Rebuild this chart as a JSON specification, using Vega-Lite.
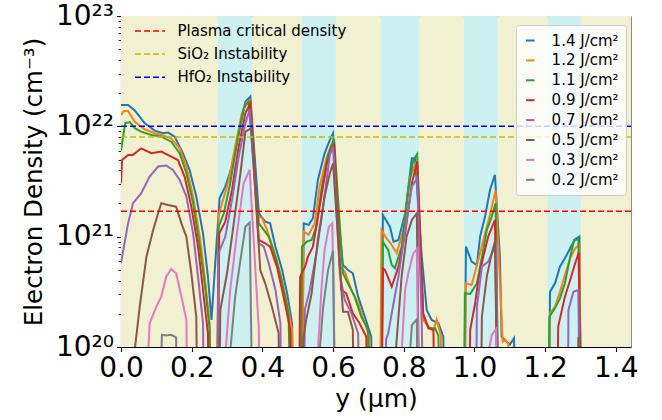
{
"$schema":"https://vega.github.io/schema/vega-lite/v6.json",
"width":510,"height":331,
"autosize":{"type":"none"},
"padding":{"left":121,"top":16,"right":31,"bottom":73},
"config":{"font":"DejaVu Sans","view":{"stroke":"#8c8c8c","strokeWidth":1},
 "axis":{"labelColor":"#000","titleColor":"#000","tickColor":"#000","domainColor":"#000","grid":false,"titleFontWeight":"normal","labelFont":"DejaVu Sans","titleFont":"DejaVu Sans"},
 "legend":{"labelColor":"#000","labelFont":"DejaVu Sans","labelLimit":400}},
"datasets":{
"bands":[
{"x0":0,"x1":0.274,"zone":"A"},{"x0":0.274,"x1":0.372,"zone":"B"},{"x0":0.372,"x1":0.512,"zone":"A"},{"x0":0.512,"x1":0.608,"zone":"B"},{"x0":0.608,"x1":0.734,"zone":"A"},{"x0":0.734,"x1":0.845,"zone":"B"},{"x0":0.845,"x1":0.97,"zone":"A"},{"x0":0.97,"x1":1.068,"zone":"B"},{"x0":1.068,"x1":1.206,"zone":"A"},{"x0":1.206,"x1":1.302,"zone":"B"},{"x0":1.302,"x1":1.443,"zone":"A"}],
"thresholds":[
{"name":"Plasma critical density","value":1.7e21},
{"name":"SiO₂ Instability","value":8e21},
{"name":"HfO₂ Instability","value":1e22}],
"curves":[
{"s":"1.4 J/cm²","x":0,"n":1.56e22},{"s":"1.4 J/cm²","x":0.02,"n":1.56e22},{"s":"1.4 J/cm²","x":0.039,"n":1.39e22},{"s":"1.4 J/cm²","x":0.067,"n":1.07e22},{"s":"1.4 J/cm²","x":0.095,"n":9.14e21},{"s":"1.4 J/cm²","x":0.119,"n":8.65e21},{"s":"1.4 J/cm²","x":0.133,"n":8.77e21},{"s":"1.4 J/cm²","x":0.152,"n":8.07e21},{"s":"1.4 J/cm²","x":0.175,"n":5.7e21},{"s":"1.4 J/cm²","x":0.194,"n":4.03e21},{"s":"1.4 J/cm²","x":0.213,"n":2.31e21},{"s":"1.4 J/cm²","x":0.232,"n":1.07e21},{"s":"1.4 J/cm²","x":0.246,"n":4.34e20},{"s":"1.4 J/cm²","x":0.256,"n":1.76e20},{"s":"1.4 J/cm²","x":0.279,"n":2.24e21},{"s":"1.4 J/cm²","x":0.295,"n":2.84e21},{"s":"1.4 J/cm²","x":0.314,"n":4.32e21},{"s":"1.4 J/cm²","x":0.333,"n":8.65e21},{"s":"1.4 J/cm²","x":0.352,"n":1.67e22},{"s":"1.4 J/cm²","x":0.366,"n":1.86e22},{"s":"1.4 J/cm²","x":0.39,"n":1.63e21},{"s":"1.4 J/cm²","x":0.408,"n":1.37e21},{"s":"1.4 J/cm²","x":0.422,"n":1.32e21},{"s":"1.4 J/cm²","x":0.437,"n":8.11e20},{"s":"1.4 J/cm²","x":0.456,"n":4.99e20},{"s":"1.4 J/cm²","x":0.47,"n":3.07e20},{"s":"1.4 J/cm²","x":0.484,"n":1.64e20},{"s":"1.4 J/cm²","x":0.494,"n":1e18},{"s":"1.4 J/cm²","x":0.508,"n":1e18},{"s":"1.4 J/cm²","x":0.517,"n":1.32e21},{"s":"1.4 J/cm²","x":0.531,"n":1.28e21},{"s":"1.4 J/cm²","x":0.543,"n":1.47e21},{"s":"1.4 J/cm²","x":0.557,"n":3.27e21},{"s":"1.4 J/cm²","x":0.576,"n":5.7e21},{"s":"1.4 J/cm²","x":0.591,"n":7.53e21},{"s":"1.4 J/cm²","x":0.6,"n":8.65e21},{"s":"1.4 J/cm²","x":0.614,"n":1.63e21},{"s":"1.4 J/cm²","x":0.628,"n":5.53e20},{"s":"1.4 J/cm²","x":0.642,"n":4.99e20},{"s":"1.4 J/cm²","x":0.656,"n":4.66e20},{"s":"1.4 J/cm²","x":0.671,"n":2.86e20},{"s":"1.4 J/cm²","x":0.69,"n":1.88e20},{"s":"1.4 J/cm²","x":0.708,"n":1.24e20},{"s":"1.4 J/cm²","x":0.716,"n":1e18},{"s":"1.4 J/cm²","x":0.733,"n":1e18},{"s":"1.4 J/cm²","x":0.741,"n":1.57e21},{"s":"1.4 J/cm²","x":0.761,"n":1.23e21},{"s":"1.4 J/cm²","x":0.771,"n":9.02e20},{"s":"1.4 J/cm²","x":0.785,"n":9.33e20},{"s":"1.4 J/cm²","x":0.804,"n":1.63e21},{"s":"1.4 J/cm²","x":0.823,"n":5.14e21},{"s":"1.4 J/cm²","x":0.832,"n":5.14e21},{"s":"1.4 J/cm²","x":0.851,"n":6.59e20},{"s":"1.4 J/cm²","x":0.865,"n":2.16e20},{"s":"1.4 J/cm²","x":0.879,"n":1.76e20},{"s":"1.4 J/cm²","x":0.898,"n":1.64e20},{"s":"1.4 J/cm²","x":0.912,"n":1.24e20},{"s":"1.4 J/cm²","x":0.92,"n":1e18},{"s":"1.4 J/cm²","x":0.968,"n":1e18},{"s":"1.4 J/cm²","x":0.976,"n":8.11e20},{"s":"1.4 J/cm²","x":0.992,"n":5.93e20},{"s":"1.4 J/cm²","x":1.007,"n":5.53e20},{"s":"1.4 J/cm²","x":1.016,"n":1e21},{"s":"1.4 J/cm²","x":1.03,"n":1.52e21},{"s":"1.4 J/cm²","x":1.044,"n":2.65e21},{"s":"1.4 J/cm²","x":1.058,"n":3.63e21},{"s":"1.4 J/cm²","x":1.072,"n":6.59e20},{"s":"1.4 J/cm²","x":1.077,"n":1.24e20},{"s":"1.4 J/cm²","x":1.087,"n":1.15e20},{"s":"1.4 J/cm²","x":1.1,"n":1.05e20},{"s":"1.4 J/cm²","x":1.112,"n":1.2e20},{"s":"1.4 J/cm²","x":1.126,"n":1e18},{"s":"1.4 J/cm²","x":1.206,"n":1e18},{"s":"1.4 J/cm²","x":1.214,"n":3.17e20},{"s":"1.4 J/cm²","x":1.228,"n":3.78e20},{"s":"1.4 J/cm²","x":1.242,"n":5.35e20},{"s":"1.4 J/cm²","x":1.256,"n":6.37e20},{"s":"1.4 J/cm²","x":1.271,"n":7.85e20},{"s":"1.4 J/cm²","x":1.285,"n":9.46e20},{"s":"1.4 J/cm²","x":1.297,"n":1e21},{"s":"1.4 J/cm²","x":1.305,"n":1e18},
{"s":"1.2 J/cm²","x":0,"n":1.27e22},{"s":"1.2 J/cm²","x":0.008,"n":1.38e22},{"s":"1.2 J/cm²","x":0.02,"n":1.38e22},{"s":"1.2 J/cm²","x":0.039,"n":1.1e22},{"s":"1.2 J/cm²","x":0.067,"n":9.4e21},{"s":"1.2 J/cm²","x":0.095,"n":8.65e21},{"s":"1.2 J/cm²","x":0.124,"n":8.18e21},{"s":"1.2 J/cm²","x":0.142,"n":7.8e21},{"s":"1.2 J/cm²","x":0.166,"n":6.32e21},{"s":"1.2 J/cm²","x":0.185,"n":4.32e21},{"s":"1.2 J/cm²","x":0.204,"n":2.31e21},{"s":"1.2 J/cm²","x":0.223,"n":1e21},{"s":"1.2 J/cm²","x":0.237,"n":4.34e20},{"s":"1.2 J/cm²","x":0.251,"n":1.64e20},{"s":"1.2 J/cm²","x":0.258,"n":1e18},{"s":"1.2 J/cm²","x":0.268,"n":1e18},{"s":"1.2 J/cm²","x":0.276,"n":1.52e21},{"s":"1.2 J/cm²","x":0.286,"n":2.01e21},{"s":"1.2 J/cm²","x":0.305,"n":3.27e21},{"s":"1.2 J/cm²","x":0.323,"n":6.55e21},{"s":"1.2 J/cm²","x":0.342,"n":1.32e22},{"s":"1.2 J/cm²","x":0.357,"n":1.67e22},{"s":"1.2 J/cm²","x":0.366,"n":1.73e22},{"s":"1.2 J/cm²","x":0.385,"n":1.57e21},{"s":"1.2 J/cm²","x":0.399,"n":1.47e21},{"s":"1.2 J/cm²","x":0.413,"n":1.15e21},{"s":"1.2 J/cm²","x":0.432,"n":7.57e20},{"s":"1.2 J/cm²","x":0.451,"n":4.66e20},{"s":"1.2 J/cm²","x":0.47,"n":2.49e20},{"s":"1.2 J/cm²","x":0.484,"n":1.43e20},{"s":"1.2 J/cm²","x":0.492,"n":1e18},{"s":"1.2 J/cm²","x":0.508,"n":1e18},{"s":"1.2 J/cm²","x":0.517,"n":1.11e21},{"s":"1.2 J/cm²","x":0.531,"n":1.04e21},{"s":"1.2 J/cm²","x":0.548,"n":1.32e21},{"s":"1.2 J/cm²","x":0.562,"n":2.84e21},{"s":"1.2 J/cm²","x":0.581,"n":5.14e21},{"s":"1.2 J/cm²","x":0.595,"n":6.78e21},{"s":"1.2 J/cm²","x":0.602,"n":7.53e21},{"s":"1.2 J/cm²","x":0.619,"n":5.35e20},{"s":"1.2 J/cm²","x":0.633,"n":4.82e20},{"s":"1.2 J/cm²","x":0.652,"n":3.29e20},{"s":"1.2 J/cm²","x":0.671,"n":2.49e20},{"s":"1.2 J/cm²","x":0.69,"n":1.64e20},{"s":"1.2 J/cm²","x":0.703,"n":1.23e20},{"s":"1.2 J/cm²","x":0.712,"n":1e18},{"s":"1.2 J/cm²","x":0.73,"n":1e18},{"s":"1.2 J/cm²","x":0.737,"n":1.15e21},{"s":"1.2 J/cm²","x":0.751,"n":9.68e20},{"s":"1.2 J/cm²","x":0.766,"n":8.41e20},{"s":"1.2 J/cm²","x":0.78,"n":7.06e20},{"s":"1.2 J/cm²","x":0.799,"n":1.15e21},{"s":"1.2 J/cm²","x":0.818,"n":3.5e21},{"s":"1.2 J/cm²","x":0.837,"n":4.79e21},{"s":"1.2 J/cm²","x":0.855,"n":1.76e20},{"s":"1.2 J/cm²","x":0.87,"n":1.53e20},{"s":"1.2 J/cm²","x":0.884,"n":1.41e20},{"s":"1.2 J/cm²","x":0.893,"n":1.78e20},{"s":"1.2 J/cm²","x":0.905,"n":1.26e20},{"s":"1.2 J/cm²","x":0.915,"n":1e18},{"s":"1.2 J/cm²","x":0.968,"n":1e18},{"s":"1.2 J/cm²","x":0.976,"n":3.78e20},{"s":"1.2 J/cm²","x":0.992,"n":3.65e20},{"s":"1.2 J/cm²","x":1.011,"n":6.15e20},{"s":"1.2 J/cm²","x":1.03,"n":1.07e21},{"s":"1.2 J/cm²","x":1.044,"n":1.57e21},{"s":"1.2 J/cm²","x":1.06,"n":2.65e21},{"s":"1.2 J/cm²","x":1.072,"n":3.98e20},{"s":"1.2 J/cm²","x":1.08,"n":1.12e20},{"s":"1.2 J/cm²","x":1.087,"n":1.16e20},{"s":"1.2 J/cm²","x":1.096,"n":1.07e20},{"s":"1.2 J/cm²","x":1.102,"n":1e18},{"s":"1.2 J/cm²","x":1.206,"n":1e18},{"s":"1.2 J/cm²","x":1.214,"n":2.02e20},{"s":"1.2 J/cm²","x":1.228,"n":2.32e20},{"s":"1.2 J/cm²","x":1.242,"n":3.17e20},{"s":"1.2 J/cm²","x":1.256,"n":4.5e20},{"s":"1.2 J/cm²","x":1.271,"n":6.37e20},{"s":"1.2 J/cm²","x":1.285,"n":7.85e20},{"s":"1.2 J/cm²","x":1.297,"n":8.41e20},{"s":"1.2 J/cm²","x":1.305,"n":1e18},
{"s":"1.1 J/cm²","x":0,"n":6.03e21},{"s":"1.1 J/cm²","x":0.012,"n":1.07e22},{"s":"1.1 J/cm²","x":0.025,"n":1.09e22},{"s":"1.1 J/cm²","x":0.039,"n":9.62e21},{"s":"1.1 J/cm²","x":0.057,"n":8.95e21},{"s":"1.1 J/cm²","x":0.086,"n":8.36e21},{"s":"1.1 J/cm²","x":0.114,"n":8.07e21},{"s":"1.1 J/cm²","x":0.142,"n":7.26e21},{"s":"1.1 J/cm²","x":0.166,"n":5.7e21},{"s":"1.1 J/cm²","x":0.185,"n":3.76e21},{"s":"1.1 J/cm²","x":0.204,"n":2.01e21},{"s":"1.1 J/cm²","x":0.223,"n":8.11e20},{"s":"1.1 J/cm²","x":0.239,"n":3.29e20},{"s":"1.1 J/cm²","x":0.251,"n":1.43e20},{"s":"1.1 J/cm²","x":0.258,"n":1e18},{"s":"1.1 J/cm²","x":0.269,"n":1e18},{"s":"1.1 J/cm²","x":0.276,"n":1.23e21},{"s":"1.1 J/cm²","x":0.291,"n":1.63e21},{"s":"1.1 J/cm²","x":0.309,"n":3.05e21},{"s":"1.1 J/cm²","x":0.328,"n":7.03e21},{"s":"1.1 J/cm²","x":0.347,"n":1.46e22},{"s":"1.1 J/cm²","x":0.361,"n":1.67e22},{"s":"1.1 J/cm²","x":0.39,"n":1.32e21},{"s":"1.1 J/cm²","x":0.404,"n":1.15e21},{"s":"1.1 J/cm²","x":0.418,"n":1e21},{"s":"1.1 J/cm²","x":0.437,"n":6.59e20},{"s":"1.1 J/cm²","x":0.456,"n":3.78e20},{"s":"1.1 J/cm²","x":0.474,"n":2.02e20},{"s":"1.1 J/cm²","x":0.489,"n":1e18},{"s":"1.1 J/cm²","x":0.505,"n":1e18},{"s":"1.1 J/cm²","x":0.512,"n":8.11e20},{"s":"1.1 J/cm²","x":0.526,"n":9.02e20},{"s":"1.1 J/cm²","x":0.539,"n":9.33e20},{"s":"1.1 J/cm²","x":0.553,"n":1.23e21},{"s":"1.1 J/cm²","x":0.567,"n":2.65e21},{"s":"1.1 J/cm²","x":0.586,"n":5.51e21},{"s":"1.1 J/cm²","x":0.603,"n":7.64e21},{"s":"1.1 J/cm²","x":0.628,"n":4.66e20},{"s":"1.1 J/cm²","x":0.642,"n":3.78e20},{"s":"1.1 J/cm²","x":0.661,"n":2.86e20},{"s":"1.1 J/cm²","x":0.68,"n":1.88e20},{"s":"1.1 J/cm²","x":0.699,"n":1.43e20},{"s":"1.1 J/cm²","x":0.71,"n":1e18},{"s":"1.1 J/cm²","x":0.733,"n":1e18},{"s":"1.1 J/cm²","x":0.741,"n":9.02e20},{"s":"1.1 J/cm²","x":0.756,"n":7.57e20},{"s":"1.1 J/cm²","x":0.766,"n":5.53e20},{"s":"1.1 J/cm²","x":0.775,"n":5.16e20},{"s":"1.1 J/cm²","x":0.794,"n":8.11e20},{"s":"1.1 J/cm²","x":0.813,"n":2.65e21},{"s":"1.1 J/cm²","x":0.827,"n":4.95e21},{"s":"1.1 J/cm²","x":0.838,"n":5.62e21},{"s":"1.1 J/cm²","x":0.855,"n":2e20},{"s":"1.1 J/cm²","x":0.87,"n":1.48e20},{"s":"1.1 J/cm²","x":0.889,"n":1.48e20},{"s":"1.1 J/cm²","x":0.898,"n":1.26e20},{"s":"1.1 J/cm²","x":0.91,"n":1e18},{"s":"1.1 J/cm²","x":0.966,"n":1e18},{"s":"1.1 J/cm²","x":0.973,"n":3.07e20},{"s":"1.1 J/cm²","x":0.988,"n":3.02e20},{"s":"1.1 J/cm²","x":1.007,"n":3.78e20},{"s":"1.1 J/cm²","x":1.025,"n":7.57e20},{"s":"1.1 J/cm²","x":1.035,"n":1.15e21},{"s":"1.1 J/cm²","x":1.049,"n":1.52e21},{"s":"1.1 J/cm²","x":1.06,"n":2.01e21},{"s":"1.1 J/cm²","x":1.075,"n":1e18},{"s":"1.1 J/cm²","x":1.206,"n":1e18},{"s":"1.1 J/cm²","x":1.212,"n":1.88e20},{"s":"1.1 J/cm²","x":1.228,"n":2.24e20},{"s":"1.1 J/cm²","x":1.242,"n":2.76e20},{"s":"1.1 J/cm²","x":1.256,"n":3.78e20},{"s":"1.1 J/cm²","x":1.271,"n":6.59e20},{"s":"1.1 J/cm²","x":1.282,"n":9.33e20},{"s":"1.1 J/cm²","x":1.294,"n":9.46e20},{"s":"1.1 J/cm²","x":1.312,"n":1e18},
{"s":"0.9 J/cm²","x":0,"n":3.05e21},{"s":"0.9 J/cm²","x":0.003,"n":4.95e21},{"s":"0.9 J/cm²","x":0.02,"n":5.51e21},{"s":"0.9 J/cm²","x":0.034,"n":5.51e21},{"s":"0.9 J/cm²","x":0.057,"n":6.32e21},{"s":"0.9 J/cm²","x":0.086,"n":5.7e21},{"s":"0.9 J/cm²","x":0.114,"n":5.9e21},{"s":"0.9 J/cm²","x":0.142,"n":5.31e21},{"s":"0.9 J/cm²","x":0.161,"n":4.95e21},{"s":"0.9 J/cm²","x":0.18,"n":3.5e21},{"s":"0.9 J/cm²","x":0.199,"n":1.87e21},{"s":"0.9 J/cm²","x":0.218,"n":8.11e20},{"s":"0.9 J/cm²","x":0.232,"n":3.29e20},{"s":"0.9 J/cm²","x":0.246,"n":1.33e20},{"s":"0.9 J/cm²","x":0.253,"n":1e18},{"s":"0.9 J/cm²","x":0.27,"n":1e18},{"s":"0.9 J/cm²","x":0.278,"n":1.07e21},{"s":"0.9 J/cm²","x":0.295,"n":1.37e21},{"s":"0.9 J/cm²","x":0.314,"n":2.65e21},{"s":"0.9 J/cm²","x":0.333,"n":6.55e21},{"s":"0.9 J/cm²","x":0.352,"n":1.32e22},{"s":"0.9 J/cm²","x":0.366,"n":1.62e22},{"s":"0.9 J/cm²","x":0.39,"n":9.33e20},{"s":"0.9 J/cm²","x":0.408,"n":8.71e20},{"s":"0.9 J/cm²","x":0.422,"n":8.11e20},{"s":"0.9 J/cm²","x":0.441,"n":5.35e20},{"s":"0.9 J/cm²","x":0.46,"n":2.86e20},{"s":"0.9 J/cm²","x":0.479,"n":1.43e20},{"s":"0.9 J/cm²","x":0.487,"n":1e18},{"s":"0.9 J/cm²","x":0.5,"n":1e18},{"s":"0.9 J/cm²","x":0.507,"n":4.34e20},{"s":"0.9 J/cm²","x":0.521,"n":5.35e20},{"s":"0.9 J/cm²","x":0.529,"n":6.59e20},{"s":"0.9 J/cm²","x":0.543,"n":8.11e20},{"s":"0.9 J/cm²","x":0.562,"n":1.87e21},{"s":"0.9 J/cm²","x":0.581,"n":4.32e21},{"s":"0.9 J/cm²","x":0.595,"n":6.32e21},{"s":"0.9 J/cm²","x":0.603,"n":6.76e21},{"s":"0.9 J/cm²","x":0.623,"n":3.29e20},{"s":"0.9 J/cm²","x":0.637,"n":3.07e20},{"s":"0.9 J/cm²","x":0.656,"n":2.02e20},{"s":"0.9 J/cm²","x":0.675,"n":1.64e20},{"s":"0.9 J/cm²","x":0.694,"n":1.24e20},{"s":"0.9 J/cm²","x":0.703,"n":1e18},{"s":"0.9 J/cm²","x":0.734,"n":1e18},{"s":"0.9 J/cm²","x":0.741,"n":5.16e20},{"s":"0.9 J/cm²","x":0.747,"n":4.99e20},{"s":"0.9 J/cm²","x":0.766,"n":3.52e20},{"s":"0.9 J/cm²","x":0.785,"n":5.35e20},{"s":"0.9 J/cm²","x":0.804,"n":1.07e21},{"s":"0.9 J/cm²","x":0.823,"n":3.05e21},{"s":"0.9 J/cm²","x":0.838,"n":4.79e21},{"s":"0.9 J/cm²","x":0.855,"n":2e20},{"s":"0.9 J/cm²","x":0.87,"n":1.48e20},{"s":"0.9 J/cm²","x":0.884,"n":1.43e20},{"s":"0.9 J/cm²","x":0.893,"n":1e18},{"s":"0.9 J/cm²","x":0.982,"n":1e18},{"s":"0.9 J/cm²","x":0.988,"n":1.43e20},{"s":"0.9 J/cm²","x":1.002,"n":2.49e20},{"s":"0.9 J/cm²","x":1.011,"n":4.05e20},{"s":"0.9 J/cm²","x":1.025,"n":6.59e20},{"s":"0.9 J/cm²","x":1.039,"n":1e21},{"s":"0.9 J/cm²","x":1.058,"n":1.42e21},{"s":"0.9 J/cm²","x":1.072,"n":1e18},{"s":"0.9 J/cm²","x":1.23,"n":1e18},{"s":"0.9 J/cm²","x":1.237,"n":1.53e20},{"s":"0.9 J/cm²","x":1.256,"n":2.86e20},{"s":"0.9 J/cm²","x":1.271,"n":4.05e20},{"s":"0.9 J/cm²","x":1.285,"n":5.74e20},{"s":"0.9 J/cm²","x":1.295,"n":7.16e20},{"s":"0.9 J/cm²","x":1.305,"n":1e18},
{"s":"0.7 J/cm²","x":0,"n":5.74e20},{"s":"0.7 J/cm²","x":0.01,"n":8.71e20},{"s":"0.7 J/cm²","x":0.02,"n":1.32e21},{"s":"0.7 J/cm²","x":0.034,"n":2.01e21},{"s":"0.7 J/cm²","x":0.057,"n":2.47e21},{"s":"0.7 J/cm²","x":0.081,"n":3.5e21},{"s":"0.7 J/cm²","x":0.105,"n":4.32e21},{"s":"0.7 J/cm²","x":0.128,"n":4.41e21},{"s":"0.7 J/cm²","x":0.147,"n":4.03e21},{"s":"0.7 J/cm²","x":0.166,"n":3.27e21},{"s":"0.7 J/cm²","x":0.185,"n":2.31e21},{"s":"0.7 J/cm²","x":0.204,"n":1.07e21},{"s":"0.7 J/cm²","x":0.218,"n":4.34e20},{"s":"0.7 J/cm²","x":0.232,"n":1.64e20},{"s":"0.7 J/cm²","x":0.24,"n":1e18},{"s":"0.7 J/cm²","x":0.268,"n":1e18},{"s":"0.7 J/cm²","x":0.276,"n":7.06e20},{"s":"0.7 J/cm²","x":0.295,"n":1e21},{"s":"0.7 J/cm²","x":0.314,"n":2.15e21},{"s":"0.7 J/cm²","x":0.333,"n":5.31e21},{"s":"0.7 J/cm²","x":0.352,"n":1.07e22},{"s":"0.7 J/cm²","x":0.364,"n":1.41e22},{"s":"0.7 J/cm²","x":0.39,"n":8.71e20},{"s":"0.7 J/cm²","x":0.404,"n":8.11e20},{"s":"0.7 J/cm²","x":0.418,"n":5.74e20},{"s":"0.7 J/cm²","x":0.437,"n":3.29e20},{"s":"0.7 J/cm²","x":0.451,"n":1.64e20},{"s":"0.7 J/cm²","x":0.458,"n":1e18},{"s":"0.7 J/cm²","x":0.515,"n":1e18},{"s":"0.7 J/cm²","x":0.52,"n":2.16e20},{"s":"0.7 J/cm²","x":0.534,"n":3.29e20},{"s":"0.7 J/cm²","x":0.553,"n":7.06e20},{"s":"0.7 J/cm²","x":0.572,"n":1.87e21},{"s":"0.7 J/cm²","x":0.591,"n":5.51e21},{"s":"0.7 J/cm²","x":0.6,"n":6.55e21},{"s":"0.7 J/cm²","x":0.619,"n":4.66e20},{"s":"0.7 J/cm²","x":0.633,"n":2.67e20},{"s":"0.7 J/cm²","x":0.652,"n":2.02e20},{"s":"0.7 J/cm²","x":0.671,"n":1.33e20},{"s":"0.7 J/cm²","x":0.68,"n":1e18},{"s":"0.7 J/cm²","x":0.745,"n":1e18},{"s":"0.7 J/cm²","x":0.75,"n":1.17e20},{"s":"0.7 J/cm²","x":0.756,"n":1.33e20},{"s":"0.7 J/cm²","x":0.771,"n":2.49e20},{"s":"0.7 J/cm²","x":0.785,"n":4.34e20},{"s":"0.7 J/cm²","x":0.804,"n":1.15e21},{"s":"0.7 J/cm²","x":0.823,"n":2.84e21},{"s":"0.7 J/cm²","x":0.838,"n":3.38e21},{"s":"0.7 J/cm²","x":0.851,"n":1.64e20},{"s":"0.7 J/cm²","x":0.862,"n":1e18},{"s":"0.7 J/cm²","x":1,"n":1e18},{"s":"0.7 J/cm²","x":1.007,"n":2.32e20},{"s":"0.7 J/cm²","x":1.021,"n":5.35e20},{"s":"0.7 J/cm²","x":1.039,"n":5.93e20},{"s":"0.7 J/cm²","x":1.054,"n":7.57e20},{"s":"0.7 J/cm²","x":1.061,"n":8.71e20},{"s":"0.7 J/cm²","x":1.072,"n":1e18},{"s":"0.7 J/cm²","x":1.262,"n":1e18},{"s":"0.7 J/cm²","x":1.266,"n":2.16e20},{"s":"0.7 J/cm²","x":1.28,"n":3.17e20},{"s":"0.7 J/cm²","x":1.294,"n":3.29e20},{"s":"0.7 J/cm²","x":1.303,"n":1e18},
{"s":"0.5 J/cm²","x":0.039,"n":9.5e19},{"s":"0.5 J/cm²","x":0.053,"n":2.32e20},{"s":"0.5 J/cm²","x":0.072,"n":6.59e20},{"s":"0.5 J/cm²","x":0.091,"n":1.15e21},{"s":"0.5 J/cm²","x":0.105,"n":1.63e21},{"s":"0.5 J/cm²","x":0.114,"n":2.01e21},{"s":"0.5 J/cm²","x":0.133,"n":1.94e21},{"s":"0.5 J/cm²","x":0.156,"n":1.87e21},{"s":"0.5 J/cm²","x":0.171,"n":1.32e21},{"s":"0.5 J/cm²","x":0.185,"n":1e21},{"s":"0.5 J/cm²","x":0.199,"n":4.66e20},{"s":"0.5 J/cm²","x":0.213,"n":1.88e20},{"s":"0.5 J/cm²","x":0.222,"n":1e18},{"s":"0.5 J/cm²","x":0.272,"n":1e18},{"s":"0.5 J/cm²","x":0.281,"n":2.16e20},{"s":"0.5 J/cm²","x":0.3,"n":4.66e20},{"s":"0.5 J/cm²","x":0.319,"n":1.32e21},{"s":"0.5 J/cm²","x":0.338,"n":3.76e21},{"s":"0.5 J/cm²","x":0.352,"n":8.95e21},{"s":"0.5 J/cm²","x":0.369,"n":9.62e21},{"s":"0.5 J/cm²","x":0.394,"n":4.99e20},{"s":"0.5 J/cm²","x":0.408,"n":3.78e20},{"s":"0.5 J/cm²","x":0.427,"n":2.32e20},{"s":"0.5 J/cm²","x":0.446,"n":1.33e20},{"s":"0.5 J/cm²","x":0.455,"n":1e18},{"s":"0.5 J/cm²","x":0.51,"n":1e18},{"s":"0.5 J/cm²","x":0.516,"n":1.2e20},{"s":"0.5 J/cm²","x":0.524,"n":1.76e20},{"s":"0.5 J/cm²","x":0.539,"n":3.02e20},{"s":"0.5 J/cm²","x":0.557,"n":9.33e20},{"s":"0.5 J/cm²","x":0.576,"n":2.31e21},{"s":"0.5 J/cm²","x":0.591,"n":3.76e21},{"s":"0.5 J/cm²","x":0.6,"n":4.62e21},{"s":"0.5 J/cm²","x":0.628,"n":2.09e20},{"s":"0.5 J/cm²","x":0.642,"n":2.09e20},{"s":"0.5 J/cm²","x":0.656,"n":1.43e20},{"s":"0.5 J/cm²","x":0.663,"n":1e18},{"s":"0.5 J/cm²","x":0.77,"n":1e18},{"s":"0.5 J/cm²","x":0.776,"n":8e19},{"s":"0.5 J/cm²","x":0.794,"n":4.34e20},{"s":"0.5 J/cm²","x":0.808,"n":1e21},{"s":"0.5 J/cm²","x":0.823,"n":1.42e21},{"s":"0.5 J/cm²","x":0.837,"n":1.63e21},{"s":"0.5 J/cm²","x":0.85,"n":1e18},{"s":"0.5 J/cm²","x":1.015,"n":1e18},{"s":"0.5 J/cm²","x":1.021,"n":1.88e20},{"s":"0.5 J/cm²","x":1.035,"n":4.34e20},{"s":"0.5 J/cm²","x":1.049,"n":7.06e20},{"s":"0.5 J/cm²","x":1.058,"n":9.02e20},{"s":"0.5 J/cm²","x":1.072,"n":1e18},{"s":"0.5 J/cm²","x":1.29,"n":1e18},{"s":"0.5 J/cm²","x":1.294,"n":1.24e20},{"s":"0.5 J/cm²","x":1.3,"n":1e18},
{"s":"0.3 J/cm²","x":0.077,"n":9e19},{"s":"0.3 J/cm²","x":0.081,"n":1.64e20},{"s":"0.3 J/cm²","x":0.1,"n":2.32e20},{"s":"0.3 J/cm²","x":0.114,"n":2.86e20},{"s":"0.3 J/cm²","x":0.128,"n":4.34e20},{"s":"0.3 J/cm²","x":0.142,"n":5.09e20},{"s":"0.3 J/cm²","x":0.156,"n":4.66e20},{"s":"0.3 J/cm²","x":0.171,"n":2.86e20},{"s":"0.3 J/cm²","x":0.185,"n":1.76e20},{"s":"0.3 J/cm²","x":0.192,"n":1e18},{"s":"0.3 J/cm²","x":0.29,"n":1e18},{"s":"0.3 J/cm²","x":0.296,"n":9e19},{"s":"0.3 J/cm²","x":0.309,"n":3.29e20},{"s":"0.3 J/cm²","x":0.328,"n":1.07e21},{"s":"0.3 J/cm²","x":0.347,"n":3.05e21},{"s":"0.3 J/cm²","x":0.364,"n":4.03e21},{"s":"0.3 J/cm²","x":0.39,"n":1.43e20},{"s":"0.3 J/cm²","x":0.395,"n":1e18},{"s":"0.3 J/cm²","x":0.552,"n":1e18},{"s":"0.3 J/cm²","x":0.557,"n":9e19},{"s":"0.3 J/cm²","x":0.567,"n":3.29e20},{"s":"0.3 J/cm²","x":0.576,"n":7.57e20},{"s":"0.3 J/cm²","x":0.588,"n":1.23e21},{"s":"0.3 J/cm²","x":0.598,"n":1.32e21},{"s":"0.3 J/cm²","x":0.614,"n":1e18},{"s":"0.3 J/cm²","x":0.79,"n":1e18},{"s":"0.3 J/cm²","x":0.794,"n":9e19},{"s":"0.3 J/cm²","x":0.804,"n":3.29e20},{"s":"0.3 J/cm²","x":0.813,"n":4.66e20},{"s":"0.3 J/cm²","x":0.827,"n":7.06e20},{"s":"0.3 J/cm²","x":0.837,"n":7.69e20},{"s":"0.3 J/cm²","x":0.848,"n":1e18},{"s":"0.3 J/cm²","x":1.036,"n":1e18},{"s":"0.3 J/cm²","x":1.04,"n":9e19},{"s":"0.3 J/cm²","x":1.049,"n":1.29e20},{"s":"0.3 J/cm²","x":1.061,"n":1.45e20},{"s":"0.3 J/cm²","x":1.066,"n":1e18},
{"s":"0.2 J/cm²","x":0.114,"n":9e19},{"s":"0.2 J/cm²","x":0.116,"n":1.29e20},{"s":"0.2 J/cm²","x":0.128,"n":1.27e20},{"s":"0.2 J/cm²","x":0.142,"n":1.29e20},{"s":"0.2 J/cm²","x":0.156,"n":1.22e20},{"s":"0.2 J/cm²","x":0.162,"n":1e18},{"s":"0.2 J/cm²","x":0.305,"n":1e18},{"s":"0.2 J/cm²","x":0.309,"n":9e19},{"s":"0.2 J/cm²","x":0.323,"n":2.86e20},{"s":"0.2 J/cm²","x":0.338,"n":6.15e20},{"s":"0.2 J/cm²","x":0.352,"n":1.23e21},{"s":"0.2 J/cm²","x":0.364,"n":1.34e21},{"s":"0.2 J/cm²","x":0.378,"n":1e18},{"s":"0.2 J/cm²","x":0.558,"n":1e18},{"s":"0.2 J/cm²","x":0.562,"n":9e19},{"s":"0.2 J/cm²","x":0.572,"n":2.32e20},{"s":"0.2 J/cm²","x":0.586,"n":4.99e20},{"s":"0.2 J/cm²","x":0.6,"n":7.46e20},{"s":"0.2 J/cm²","x":0.61,"n":1e18},{"s":"0.2 J/cm²","x":0.814,"n":1e18},{"s":"0.2 J/cm²","x":0.818,"n":9e19},{"s":"0.2 J/cm²","x":0.823,"n":1.58e20},{"s":"0.2 J/cm²","x":0.837,"n":1.78e20},{"s":"0.2 J/cm²","x":0.843,"n":1e18}
]},
"layer":[
{"data":{"name":"bands"},"mark":{"type":"rect","clip":true},
 "encoding":{
  "x":{"field":"x0","type":"quantitative","scale":{"domain":[0,1.443],"nice":false,"zero":false},
   "axis":{"values":[0,0.2,0.4,0.6,0.8,1.0,1.2,1.4],"format":".1f","labelFontSize":28,"labelPadding":3,"tickSize":4.5,"tickWidth":1.1,"domainWidth":1.1,"title":"y (μm)","titleFontSize":25,"titlePadding":4,"labelFlush":false,"labelOverlap":false}},
  "x2":{"field":"x1"},
  "color":{"field":"zone","type":"nominal","scale":{"domain":["A","B"],"range":["#f1f0d1","#cdf1f0"]},"legend":null}}},
{"data":{"name":"curves"},"mark":{"type":"line","clip":true,"strokeWidth":2},
 "encoding":{
  "x":{"field":"x","type":"quantitative","scale":{"domain":[0,1.443],"nice":false,"zero":false},
   "axis":{"values":[0,0.2,0.4,0.6,0.8,1.0,1.2,1.4],"format":".1f","labelFontSize":28,"labelPadding":3,"tickSize":4.5,"tickWidth":1.1,"domainWidth":1.1,"title":"y (μm)","titleFontSize":25,"titlePadding":4,"labelFlush":false,"labelOverlap":false}},
  "y":{"field":"n","type":"quantitative","scale":{"type":"log","domain":[1e20,1e23],"nice":false},
   "axis":{"values":[1e20,1e21,1e22,1e23],"labelExpr":"'10' + (round(log(datum.value)/LN10) == 20 ? '²⁰' : round(log(datum.value)/LN10) == 21 ? '²¹' : round(log(datum.value)/LN10) == 22 ? '²²' : '²³')","labelFontSize":28,"labelPadding":3,"tickSize":4.5,"tickWidth":1.1,"domainWidth":1.1,"title":"Electron Density (cm⁻³)","titleFontSize":24.5,"titlePadding":9,"labelFlush":false,"labelOverlap":false}},
  "color":{"field":"s","type":"nominal","sort":null,
   "scale":{"domain":["1.4 J/cm²","1.2 J/cm²","1.1 J/cm²","0.9 J/cm²","0.7 J/cm²","0.5 J/cm²","0.3 J/cm²","0.2 J/cm²"],"range":["#1f77b4","#ff7f0e","#2ca02c","#d62728","#9467bd","#8c564b","#e377c2","#7f7f7f"]},
   "legend":{"orient":"none","legendX":395,"legendY":9,"title":null,"symbolType":"M-0.567,0H0.567","symbolSize":225,"symbolStrokeWidth":2,"symbolOffset":-1.2,"labelFontSize":15,"labelOffset":12.8,"rowPadding":2.9,"padding":7,"fillColor":"rgba(255,255,255,0.8)","strokeColor":"#cccccc","cornerRadius":3}}}},
{"data":{"name":"thresholds"},"mark":{"type":"rule","strokeDash":[6,3],"strokeWidth":1.5},
 "encoding":{
  "y":{"field":"value","type":"quantitative","scale":{"type":"log","domain":[1e20,1e23],"nice":false},
   "axis":{"orient":"left","values":[2e20,3e20,4e20,5e20,6e20,7e20,8e20,9e20,2e21,3e21,4e21,5e21,6e21,7e21,8e21,9e21,2e22,3e22,4e22,5e22,6e22,7e22,8e22,9e22],"labels":false,"domain":false,"grid":false,"tickSize":3,"tickWidth":0.8,"title":null}},
  "color":{"field":"name","type":"nominal","sort":null,
   "scale":{"domain":["Plasma critical density","SiO₂ Instability","HfO₂ Instability"],"range":["#ff0000","#bfbf00","#0000ff"]},
   "legend":{"orient":"none","legendX":20.5,"legendY":6.5,"title":null,"symbolType":"M-2,0H2","symbolSize":225,"symbolStrokeWidth":1.5,"symbolDash":[6,3],"labelFontSize":15,"labelOffset":19,"rowPadding":6.1,"padding":0}}}}
],
"resolve":{"scale":{"color":"independent"},"axis":{"y":"independent"}}
}
